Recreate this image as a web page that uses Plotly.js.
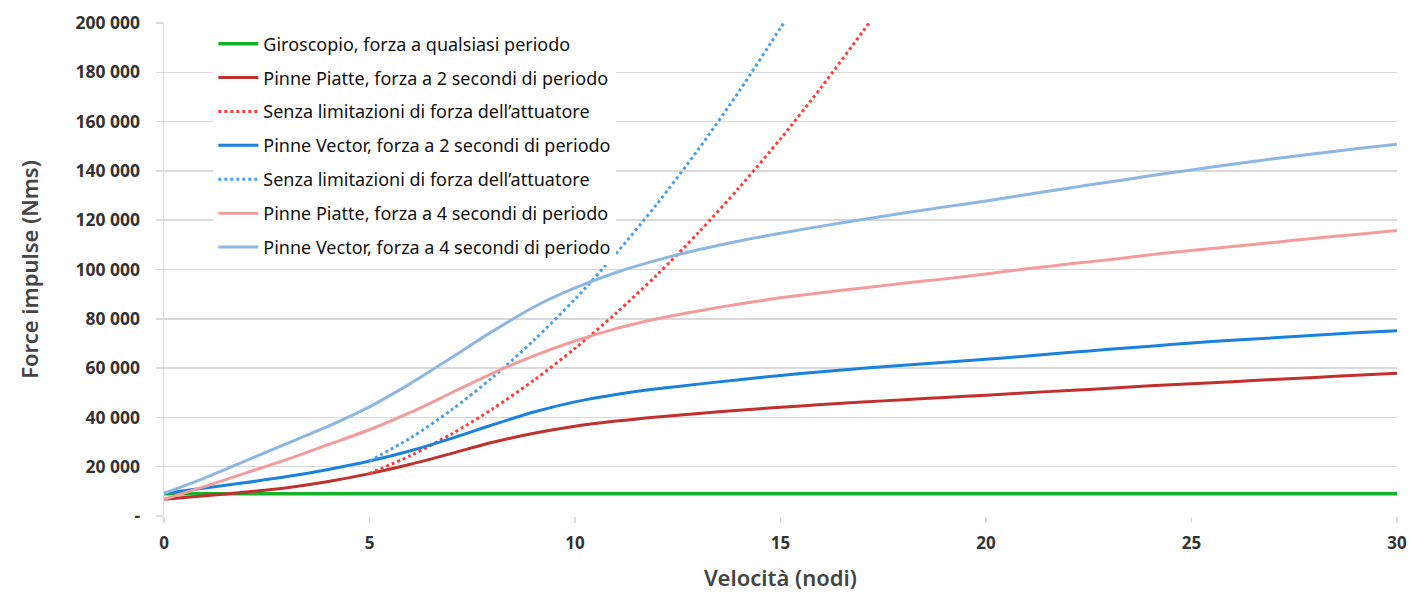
<!DOCTYPE html>
<html>
<head>
<meta charset="utf-8">
<script src="https://cdn.plot.ly/plotly-3.0.1.min.js"></script>
<style>html,body{margin:0;padding:0;background:#fff;}#chart{width:1410px;height:592px;}</style>
</head>
<body>
<div id="chart"></div>
<script>
// Velocità (nodi)
const speed = [0,1,2,3,4,5,6,7,8,9,10,11,12,13,14,15,16,17,18,19,20,21,22,23,24,25,26,27,28,29,30];

const giroscopio = [9000,9000,9000,9000,9000,9000,9000,9000,9000,9000,9000,9000,9000,9000,9000,9000,9000,9000,9000,9000,9000,9000,9000,9000,9000,9000,9000,9000,9000,9000,9000];

const piatte2s = [6800,8200,9700,11500,14000,17200,21000,25400,29900,33600,36400,38500,40200,41600,42900,44100,45200,46200,47200,48100,49000,50000,50900,51800,52800,53700,54500,55400,56200,57100,57900];

const vector2s = [9200,11400,13600,16000,18900,22300,26500,31500,37000,42200,46300,49300,51600,53500,55300,57000,58500,59900,61200,62400,63600,64900,66300,67600,68900,70200,71300,72300,73300,74300,75200];

const piatte4s = [6800,12000,17500,23000,29000,35000,42000,50000,58000,65000,71000,76000,80000,83200,86000,88500,90600,92500,94400,96200,98200,100300,102200,104000,106000,107700,109300,111000,112700,114200,115800];

const vector4s = [9200,15500,22500,29500,36500,44300,53800,64300,75000,84800,92500,98800,103800,108000,111600,114700,117600,120300,122900,125400,127800,130400,133000,135500,138000,140400,142700,144900,147000,149000,150800];

// Senza limitazioni di forza dell'attuatore
const speedNoLimPiatte = [5,6,7,8,9,10,11,12,13,14,15,16,17,17.5];
const noLimPiatte = [17200,24500,33300,43500,55100,68000,82300,97900,114900,133300,153000,174100,196500,208000];
const speedNoLimVector = [5,6,7,8,9,10,11,12,13,14,15,15.5];
const noLimVector = [22300,31700,43100,56300,71300,88000,106500,126700,148700,172500,198000,211000];

const yTickVals = [0,20000,40000,60000,80000,100000,120000,140000,160000,180000,200000];
const yTickText = ['-','20 000','40 000','60 000','80 000','100 000','120 000','140 000','160 000','180 000','200 000'];
const xTickVals = [0,5,10,15,20,25,30];

const names = [
  'Giroscopio, forza a qualsiasi periodo',
  'Pinne Piatte, forza a 2 secondi di periodo',
  'Senza limitazioni di forza dell\u2019attuatore',
  'Pinne Vector, forza a 2 secondi di periodo',
  'Senza limitazioni di forza dell\u2019attuatore',
  'Pinne Piatte, forza a 4 secondi di periodo',
  'Pinne Vector, forza a 4 secondi di periodo'
];

function tr(x, y, name, color, dash, g, w) {
  return {x: x, y: y, name: name, type: 'scatter', mode: 'lines', legendgroup: g,
    line: {color: color, width: w || 3, dash: dash, shape: 'spline', smoothing: 0.8}, hoverinfo: 'skip'};
}

const data = [
  tr(speed, giroscopio, names[0], '#12b32a', 'solid', 'g1', 3.5),
  tr(speed, piatte2s, names[1], '#c0302e', 'solid', 'g2'),
  tr(speedNoLimPiatte, noLimPiatte, names[2], '#ff3b3b', 'dot', 'g3'),
  tr(speed, vector2s, names[3], '#1a82dc', 'solid', 'g4'),
  tr(speedNoLimVector, noLimVector, names[4], '#4aa0e6', 'dot', 'g5'),
  tr(speed, piatte4s, names[5], '#f29c9c', 'solid', 'g6'),
  tr(speed, vector4s, names[6], '#8db6e0', 'solid', 'g7')
];

const layout = {
  width: 1410, height: 592,
  margin: {l: 164, r: 13, t: 23, b: 76},
  paper_bgcolor: '#ffffff', plot_bgcolor: '#ffffff',
  font: {family: 'Noto Sans, sans-serif', color: '#222'},
  showlegend: true,
  legend: {
    x: 0.040, y: 0.995, xanchor: 'left', yanchor: 'top',
    bgcolor: '#ffffff', borderwidth: 0,
    traceorder: 'grouped', tracegroupgap: 7.5,
    font: {family: 'Noto Sans, sans-serif', size: 18, color: '#111'},
    itemwidth: 40
  },
  shapes: [{
    type: 'rect', xref: 'paper', yref: 'paper', layer: 'below',
    x0: 0.003, x1: 0.36, y0: 0.503, y1: 0.998,
    fillcolor: '#ffffff', line: {width: 0}
  }],
  xaxis: {
    range: [0, 30], tickvals: xTickVals, ticktext: xTickVals.map(String),
    showgrid: false, zeroline: false,
    showline: false,
    ticks: 'outside', ticklen: 6, tickcolor: '#d9d9d9', tickwidth: 1.5,
    ticklabelstandoff: 6,
    tickfont: {family: 'Noto Sans, sans-serif', size: 17, color: '#333', weight: 'bold'},
    title: {text: 'Velocità (nodi)', standoff: 18,
      font: {family: 'Noto Sans, sans-serif', size: 22, color: '#444', weight: 600}}
  },
  yaxis: {
    range: [0, 200000], tickvals: yTickVals, ticktext: yTickText,
    showgrid: true, gridcolor: '#dadada', gridwidth: 1.5,
    zeroline: false, showline: true, linecolor: '#dadada', linewidth: 1.5,
    ticks: 'outside', ticklen: 7, tickcolor: '#dadada', tickwidth: 1.5,
    ticklabelstandoff: 12,
    tickfont: {family: 'Noto Sans, sans-serif', size: 17.5, color: '#333', weight: 'bold'},
    title: {text: 'Force impulse (Nms)', standoff: 30,
      font: {family: 'Noto Sans, sans-serif', size: 22, color: '#444', weight: 600}}
  }
};

Plotly.newPlot('chart', data, layout, {displayModeBar: false, staticPlot: true});
</script>
</body>
</html>
